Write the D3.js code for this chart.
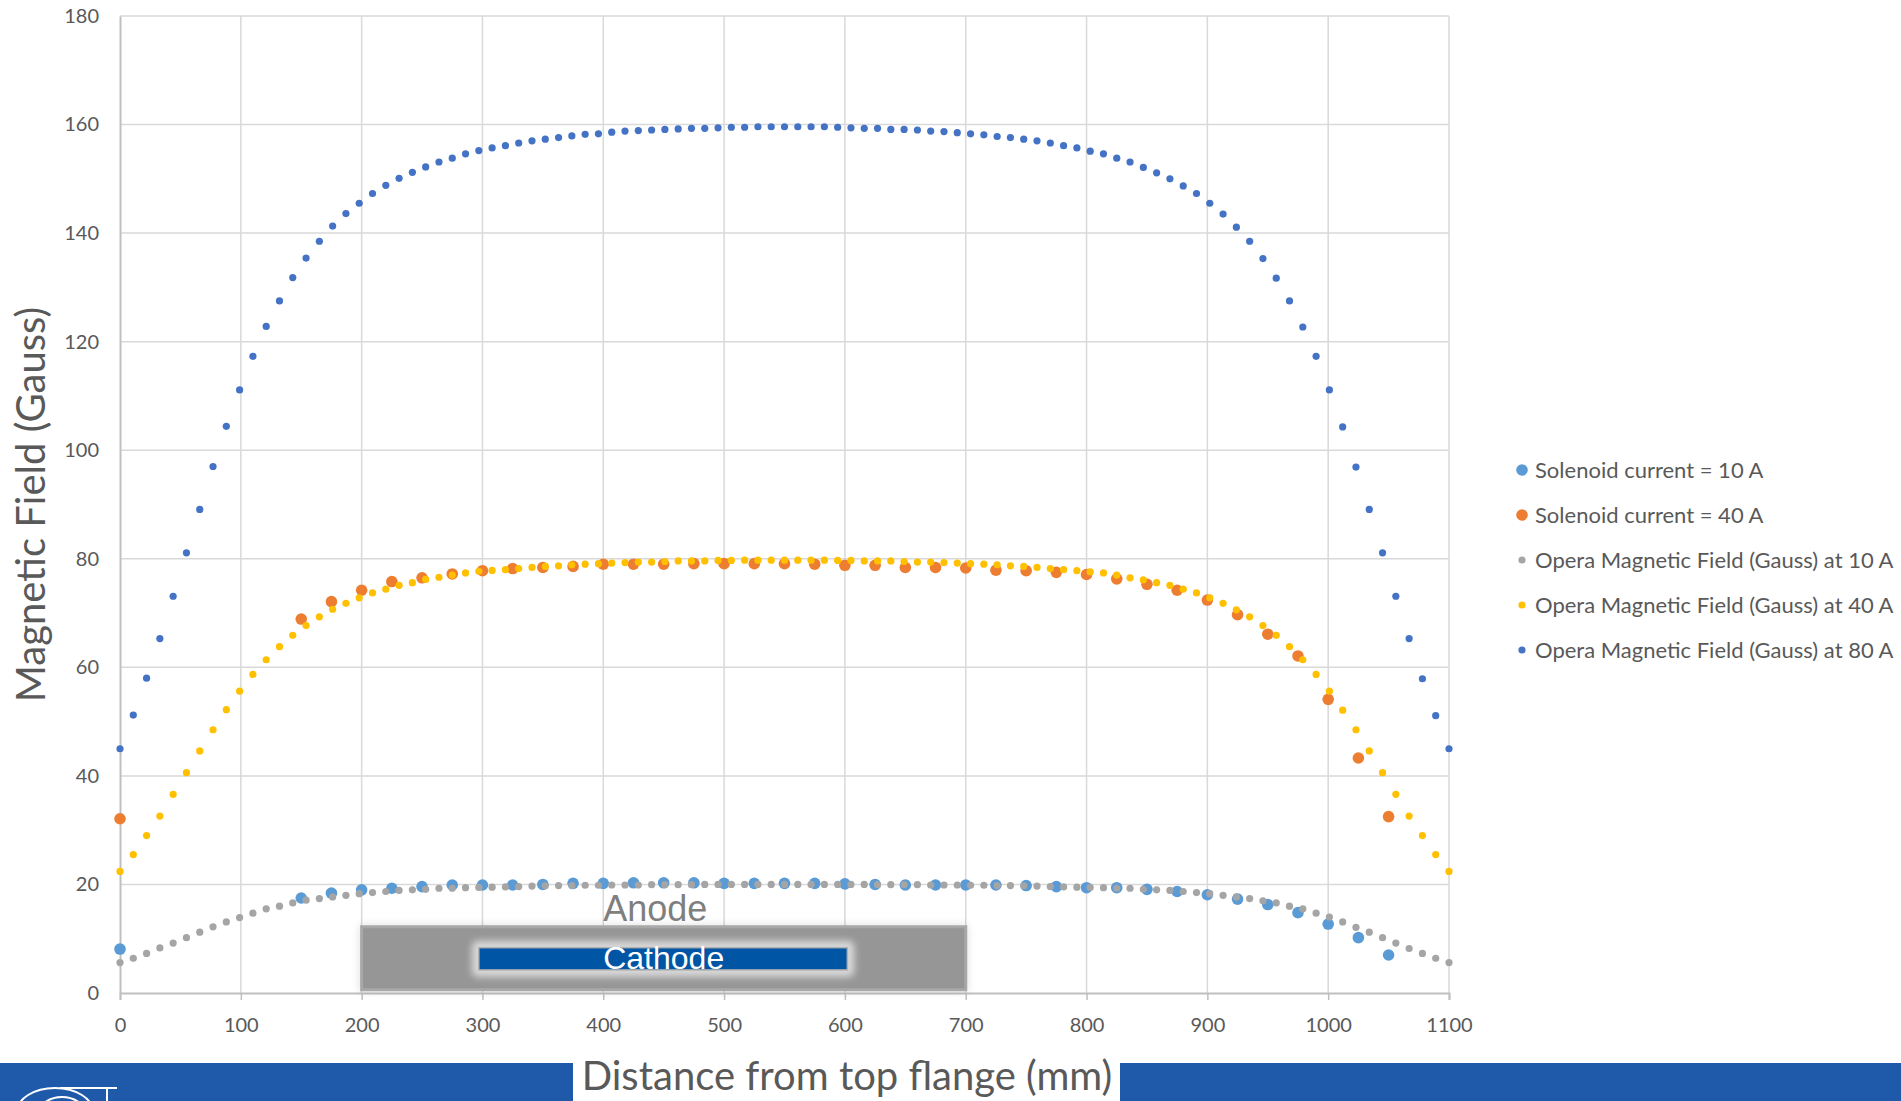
<!DOCTYPE html>
<html>
<head>
<meta charset="utf-8">
<script src="https://cdn.jsdelivr.net/npm/d3@7"></script>
<style>
  body { margin: 0; background: #fff; overflow: hidden; }
  svg text { font-family: Lato, "Open Sans", sans-serif; }
</style>
</head>
<body>
<div id="chart"></div>
<script>
// positions along the tube (mm) of the simulated points
var operaX = [0, 11, 22, 33, 44, 55, 66, 77, 88, 99,
    110, 121, 132, 143, 154, 165, 176, 187, 198, 209,
    220, 231, 242, 253, 264, 275, 286, 297, 308, 319,
    330, 341, 352, 363, 374, 385, 396, 407, 418, 429,
    440, 451, 462, 473, 484, 495, 506, 517, 528, 539,
    550, 561, 572, 583, 594, 605, 616, 627, 638, 649,
    660, 671, 682, 693, 704, 715, 726, 737, 748, 759,
    770, 781, 792, 803, 814, 825, 836, 847, 858, 869,
    880, 891, 902, 913, 924, 935, 946, 957, 968, 979,
    990, 1001, 1012, 1023, 1034, 1045, 1056, 1067, 1078, 1089,
    1100];

var opera10 = [5.6, 6.4, 7.3, 8.3, 9.2, 10.2, 11.2, 12.2, 13.1, 13.9,
    14.7, 15.5, 16.0, 16.6, 17.1, 17.4, 17.7, 18.0, 18.3, 18.5,
    18.7, 18.9, 19.0, 19.1, 19.3, 19.3, 19.4, 19.45, 19.5, 19.55,
    19.6, 19.7, 19.75, 19.8, 19.8, 19.85, 19.85, 19.9, 19.9, 19.9,
    19.95, 19.95, 19.95, 19.95, 20.0, 20.0, 20.0, 20.0, 20.0, 20.0,
    20.0, 20.0, 20.0, 20.0, 20.0, 20.0, 20.0, 19.95, 19.95, 19.95,
    19.95, 19.9, 19.9, 19.9, 19.85, 19.85, 19.8, 19.8, 19.75, 19.7,
    19.6, 19.55, 19.5, 19.45, 19.4, 19.3, 19.3, 19.1, 19.0, 18.9,
    18.7, 18.5, 18.3, 18.0, 17.7, 17.4, 17.0, 16.6, 16.0, 15.5,
    14.7, 14.0, 13.1, 12.1, 11.2, 10.2, 9.2, 8.2, 7.3, 6.4,
    5.6];

var opera40 = [22.4, 25.5, 29.0, 32.6, 36.6, 40.6, 44.6, 48.5, 52.2, 55.6,
    58.7, 61.4, 63.8, 65.9, 67.7, 69.3, 70.7, 71.8, 72.8, 73.7,
    74.4, 75.1, 75.6, 76.2, 76.6, 77.0, 77.4, 77.7, 77.85, 78.0,
    78.2, 78.4, 78.6, 78.7, 78.9, 79.0, 79.1, 79.2, 79.3, 79.4,
    79.4, 79.5, 79.6, 79.6, 79.6, 79.7, 79.7, 79.75, 79.75, 79.75,
    79.75, 79.75, 79.75, 79.75, 79.7, 79.7, 79.6, 79.6, 79.6, 79.5,
    79.4, 79.4, 79.3, 79.2, 79.1, 79.0, 78.9, 78.7, 78.6, 78.4,
    78.2, 78.0, 77.8, 77.6, 77.4, 77.0, 76.5, 76.1, 75.6, 75.1,
    74.4, 73.7, 72.8, 71.8, 70.6, 69.3, 67.7, 65.9, 63.8, 61.4,
    58.7, 55.6, 52.1, 48.5, 44.6, 40.6, 36.6, 32.6, 29.0, 25.5,
    22.4];

var opera80 = [45.0, 51.2, 58.0, 65.3, 73.1, 81.1, 89.1, 97.0, 104.4, 111.1,
    117.3, 122.8, 127.5, 131.8, 135.4, 138.5, 141.3, 143.6, 145.5, 147.3,
    148.8, 150.1, 151.2, 152.2, 153.1, 153.8, 154.6, 155.2, 155.7, 156.1,
    156.6, 157.0, 157.3, 157.6, 157.9, 158.2, 158.3, 158.6, 158.8, 158.9,
    159.0, 159.1, 159.2, 159.3, 159.3, 159.4, 159.5, 159.5, 159.6, 159.6,
    159.6, 159.6, 159.6, 159.6, 159.5, 159.4, 159.3, 159.3, 159.1, 159.1,
    159.0, 158.8, 158.7, 158.5, 158.3, 158.1, 157.8, 157.6, 157.3, 157.0,
    156.6, 156.1, 155.7, 155.1, 154.6, 153.8, 153.1, 152.1, 151.1, 150.0,
    148.7, 147.3, 145.5, 143.5, 141.1, 138.5, 135.3, 131.7, 127.5, 122.7,
    117.3, 111.1, 104.3, 96.9, 89.1, 81.1, 73.1, 65.3, 57.9, 51.1,
    45.0];

// measured points
var measX = [0, 150, 175, 200, 225, 250, 275, 300, 325, 350,
    375, 400, 425, 450, 475, 500, 525, 550, 575, 600,
    625, 650, 675, 700, 725, 750, 775, 800, 825, 850,
    875, 900, 925, 950, 975, 1000, 1025, 1050];
var meas10 = [8.1, 17.5, 18.4, 19.0, 19.3, 19.6, 19.9, 19.9, 19.9, 20.0,
    20.2, 20.2, 20.3, 20.3, 20.3, 20.2, 20.2, 20.2, 20.2, 20.1,
    20.0, 19.9, 19.9, 19.9, 19.9, 19.8, 19.6, 19.4, 19.4, 19.1,
    18.7, 18.1, 17.3, 16.3, 14.8, 12.7, 10.2, 7.0];
var meas40 = [32.1, 68.9, 72.1, 74.2, 75.8, 76.5, 77.2, 77.8, 78.2, 78.4,
    78.6, 79.0, 79.0, 79.0, 79.1, 79.1, 79.1, 79.1, 79.0, 78.8,
    78.8, 78.4, 78.4, 78.3, 77.9, 77.8, 77.5, 77.1, 76.3, 75.3,
    74.2, 72.4, 69.7, 66.1, 62.1, 54.1, 43.3, 32.5];

var xTicks = [0, 100, 200, 300, 400, 500, 600, 700, 800, 900, 1000, 1100];
var yTicks = [0, 20, 40, 60, 80, 100, 120, 140, 160, 180];

var seriesNames = ["Solenoid current = 10 A", "Solenoid current = 40 A",
    "Opera Magnetic Field (Gauss) at 10 A", "Opera Magnetic Field (Gauss) at 40 A",
    "Opera Magnetic Field (Gauss) at 80 A"];
var seriesColors = ["#5B9BD5", "#ED7D31", "#A5A5A5", "#FFC000", "#4472C4"];
var seriesR = [5.8, 5.8, 3.6, 3.6, 3.6];

// electrode outlines, in chart units
var anodeBox = { x0: 200, x1: 700, y0: 0.6, y1: 12.2 };
var cathodeBox = { x0: 297, x1: 602, y0: 4.25, y1: 8.35 };

var W = 1901, H = 1101;
var margin = { left: 120, right: 452, top: 16, bottom: 108 };

var svg = d3.select("#chart").append("svg")
    .attr("width", W)
    .attr("height", H);

var x = d3.scaleLinear().domain([0, 1100]).range([margin.left, W - margin.right]);
var y = d3.scaleLinear().domain([0, 180]).range([H - margin.bottom, margin.top]);

var defs = svg.append("defs");
defs.append("filter").attr("id", "soft").attr("x", "-20%").attr("y", "-50%").attr("width", "140%").attr("height", "200%")
    .append("feGaussianBlur").attr("stdDeviation", 4);
defs.append("filter").attr("id", "glow").attr("x", "-20%").attr("y", "-80%").attr("width", "140%").attr("height", "260%")
    .append("feGaussianBlur").attr("stdDeviation", 3.5);

// gridlines
var grid = svg.append("g");
grid.selectAll(".vg").data(xTicks.slice(1)).enter().append("line")
    .attr("x1", d => x(d)).attr("x2", d => x(d))
    .attr("y1", y(180)).attr("y2", y(0))
    .attr("stroke", "#D9D9D9").attr("stroke-width", 1.5);
grid.selectAll(".hg").data(yTicks.slice(1)).enter().append("line")
    .attr("x1", x(0)).attr("x2", x(1100))
    .attr("y1", d => y(d)).attr("y2", d => y(d))
    .attr("stroke", "#D9D9D9").attr("stroke-width", 1.5);

// axes
var xAxis = svg.append("g")
    .attr("transform", "translate(0," + y(0) + ")")
    .call(d3.axisBottom(x).tickValues(xTicks).tickSize(7).tickPadding(18).tickFormat(d3.format("d")));
xAxis.select(".domain").attr("stroke", "#BFBFBF").attr("stroke-width", 2);
xAxis.selectAll(".tick line").attr("stroke", "#BFBFBF").attr("stroke-width", 1.5);
xAxis.selectAll("text").attr("fill", "#595959").style("font-size", "20px").style("font-family", "Lato");

var yAxis = svg.append("g")
    .attr("transform", "translate(" + x(0) + ",0)")
    .call(d3.axisLeft(y).tickValues(yTicks).tickSize(0).tickPadding(21).tickFormat(d3.format("d")));
yAxis.select(".domain").attr("stroke", "#BFBFBF").attr("stroke-width", 2);
yAxis.selectAll("text").attr("fill", "#595959").style("font-size", "20px").style("font-family", "Lato");

// anode / cathode drawing
var elec = svg.append("g");
elec.append("rect")
    .attr("x", x(anodeBox.x0) - 2).attr("y", y(anodeBox.y1) - 2)
    .attr("width", x(anodeBox.x1) - x(anodeBox.x0) + 4).attr("height", y(anodeBox.y0) - y(anodeBox.y1) + 4)
    .attr("fill", "#000").attr("opacity", 0.12).attr("filter", "url(#soft)");
elec.append("rect")
    .attr("x", x(anodeBox.x0)).attr("y", y(anodeBox.y1))
    .attr("width", x(anodeBox.x1) - x(anodeBox.x0)).attr("height", y(anodeBox.y0) - y(anodeBox.y1))
    .attr("fill", "#969696").attr("stroke", "#A8A8A8").attr("stroke-width", 3);
elec.append("rect")
    .attr("x", x(cathodeBox.x0) - 7).attr("y", y(cathodeBox.y1) - 7)
    .attr("width", x(cathodeBox.x1) - x(cathodeBox.x0) + 14).attr("height", y(cathodeBox.y0) - y(cathodeBox.y1) + 14)
    .attr("rx", 6)
    .attr("fill", "#D8D8D8").attr("filter", "url(#glow)");
elec.append("rect")
    .attr("x", x(cathodeBox.x0)).attr("y", y(cathodeBox.y1))
    .attr("width", x(cathodeBox.x1) - x(cathodeBox.x0)).attr("height", y(cathodeBox.y0) - y(cathodeBox.y1))
    .attr("fill", "#0055A4").attr("stroke", "#B0B0B0").attr("stroke-width", 1.5);
elec.append("text")
    .attr("x", x(443)).attr("y", y(anodeBox.y1) - 6)
    .attr("text-anchor", "middle")
    .style("font-family", "'Liberation Sans', Arial, sans-serif").style("font-size", "36px")
    .attr("fill", "#7F7F7F")
    .text("Anode");
elec.append("text")
    .attr("x", x(450)).attr("y", y(cathodeBox.y0) - 1)
    .attr("text-anchor", "middle")
    .style("font-family", "'Liberation Sans', Arial, sans-serif").style("font-size", "32px")
    .attr("fill", "#FFFFFF")
    .text("Cathode");

// series, same order as the legend (later ones on top)
var series = [
    { xs: measX, ys: meas10 },
    { xs: measX, ys: meas40 },
    { xs: operaX, ys: opera10 },
    { xs: operaX, ys: opera40 },
    { xs: operaX, ys: opera80 }
];

series.forEach(function(s, i) {
    svg.append("g")
        .selectAll("circle")
        .data(s.ys.map(function(v, j) { return [s.xs[j], v]; }))
        .enter().append("circle")
        .attr("cx", d => x(d[0]))
        .attr("cy", d => y(d[1]))
        .attr("r", seriesR[i])
        .attr("fill", seriesColors[i]);
});

// legend
var legend = svg.append("g").attr("transform", "translate(1522,470)");
var li = legend.selectAll("g").data(seriesNames).enter().append("g")
    .attr("transform", (d, i) => "translate(0," + (i * 45) + ")");
li.append("circle")
    .attr("r", (d, i) => i < 2 ? 5.8 : 3.6)
    .attr("fill", (d, i) => seriesColors[i]);
li.append("text")
    .attr("x", 13).attr("dy", "0.35em")
    .attr("fill", "#595959")
    .style("font-size", "22px")
    .text(d => d);

// axis titles
svg.append("text")
    .attr("transform", "translate(45," + ((y(0) + y(180)) / 2) + ") rotate(-90)")
    .attr("text-anchor", "middle")
    .attr("fill", "#595959")
    .style("font-size", "40px")
    .text("Magnetic Field (Gauss)");

// bottom band with the gap for the x title
var band = svg.append("g");
band.append("rect").attr("x", 0).attr("y", 1063).attr("width", 573).attr("height", 38).attr("fill", "#1F5AAA");
band.append("rect").attr("x", 1120).attr("y", 1063).attr("width", W - 1120).attr("height", 38).attr("fill", "#1F5AAA");
// logo fragment
band.append("ellipse").attr("cx", 55).attr("cy", 1112).attr("rx", 38).attr("ry", 24)
    .attr("fill", "none").attr("stroke", "#fff").attr("stroke-width", 2);
band.append("ellipse").attr("cx", 62).attr("cy", 1112).attr("rx", 22).attr("ry", 15)
    .attr("fill", "none").attr("stroke", "#fff").attr("stroke-width", 2);
band.append("line").attr("x1", 60).attr("x2", 117).attr("y1", 1088).attr("y2", 1088)
    .attr("stroke", "#fff").attr("stroke-width", 2);
band.append("line").attr("x1", 107).attr("x2", 107).attr("y1", 1088).attr("y2", 1101)
    .attr("stroke", "#fff").attr("stroke-width", 2);

svg.append("text")
    .attr("x", 847).attr("y", 1090)
    .attr("text-anchor", "middle")
    .attr("fill", "#595959")
    .style("font-size", "40px")
    .text("Distance from top flange (mm)");
</script>
</body>
</html>
